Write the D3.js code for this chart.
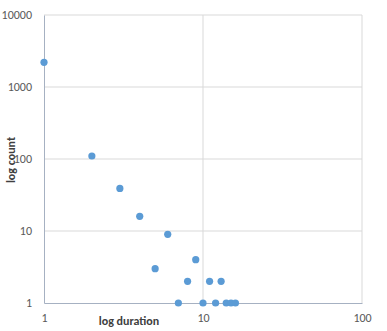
<!DOCTYPE html>
<html>
<head>
<meta charset="utf-8">
<script src="https://cdn.jsdelivr.net/npm/d3@7"></script>
<style>
  body { margin: 0; background: #fff; }
  text { font-family: Calibri, Carlito, "Liberation Sans", sans-serif; }
</style>
</head>
<body>
<div id="chart"></div>
<script>
var svgWidth = 387;
var svgHeight = 331;

var margin = { top: 15, right: 25, bottom: 28, left: 44 };
var width = svgWidth - margin.left - margin.right;
var height = svgHeight - margin.top - margin.bottom;

// data
var durations = [1, 2, 3, 4, 5, 6, 7, 8, 9, 10, 11, 12, 13, 14, 15, 16];
var counts = [2200, 110, 39, 16, 3, 9, 1, 2, 4, 1, 2, 1, 2, 1, 1, 1];
var xTicks = [1, 10, 100];
var yTicks = [1, 10, 100, 1000, 10000];

var svg = d3.select("#chart")
  .append("svg")
  .attr("width", svgWidth)
  .attr("height", svgHeight);

var chartGroup = svg.append("g")
  .attr("transform", `translate(${margin.left}, ${margin.top})`);

var xScale = d3.scaleLog().domain([1, 100]).range([0, width]);
var yScale = d3.scaleLog().domain([1, 10000]).range([height, 0]);

// gridlines
chartGroup.append("g")
  .selectAll("line")
  .data(yTicks.slice(1))
  .enter()
  .append("line")
  .attr("x1", 0)
  .attr("x2", width)
  .attr("y1", d => yScale(d))
  .attr("y2", d => yScale(d))
  .attr("stroke", "#d9d9d9");

chartGroup.append("g")
  .selectAll("line")
  .data(xTicks.slice(1))
  .enter()
  .append("line")
  .attr("x1", d => xScale(d))
  .attr("x2", d => xScale(d))
  .attr("y1", 0)
  .attr("y2", height)
  .attr("stroke", "#d9d9d9");

// axes
var bottomAxis = d3.axisBottom(xScale).tickValues(xTicks).tickFormat(d3.format("d")).tickSize(0).tickPadding(10);
var leftAxis = d3.axisLeft(yScale).tickValues(yTicks).tickFormat(d3.format("d")).tickSize(0).tickPadding(12);

var xAxisG = chartGroup.append("g")
  .attr("transform", `translate(0, ${height})`)
  .call(bottomAxis);

var yAxisG = chartGroup.append("g")
  .call(leftAxis);

[xAxisG, yAxisG].forEach(function(g) {
  g.select(".domain").attr("stroke", "#a6b1c2");
  g.selectAll("text")
    .attr("fill", "#595959")
    .style("font-size", "12px");
});

// points
chartGroup.selectAll("circle")
  .data(durations)
  .enter()
  .append("circle")
  .attr("cx", d => xScale(d))
  .attr("cy", (d, i) => yScale(counts[i]))
  .attr("r", 3.6)
  .attr("fill", "#5b9bd5");

// axis titles
svg.append("text")
  .attr("x", 129)
  .attr("y", 325)
  .attr("text-anchor", "middle")
  .attr("fill", "#404040")
  .style("font-size", "12px")
  .style("font-weight", "bold")
  .text("log duration");

svg.append("text")
  .attr("transform", "translate(15, 160) rotate(-90)")
  .attr("text-anchor", "middle")
  .attr("fill", "#404040")
  .style("font-size", "12px")
  .style("font-weight", "bold")
  .text("log count");
</script>
</body>
</html>
